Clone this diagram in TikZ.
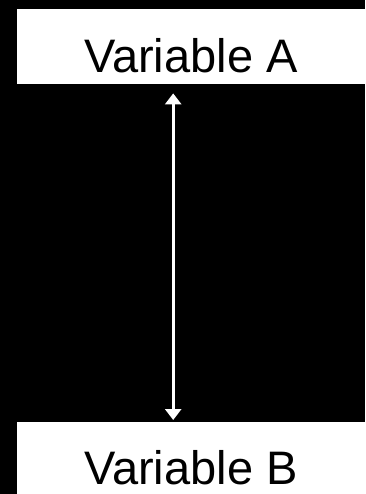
\documentclass[tikz,border=0pt]{standalone}
\usepackage{fontspec}
\setmainfont{Liberation Sans}
\usetikzlibrary{arrows.meta}
\begin{document}
\begin{tikzpicture}[x=1pt,y=-1pt,
  box/.style={fill=white, draw=none, rectangle, inner sep=0pt, anchor=north west},
  lbl/.style={inner sep=0pt, anchor=base, text=black, font=\fontsize{47}{56}\selectfont},
  arr/.style={draw=white, line width=3pt, {Triangle[width=16pt,length=11pt]}-{Triangle[width=16pt,length=11pt]}}]
  \useasboundingbox (0,0) rectangle (365,494);
  \fill[black] (0,0) rectangle (365,494);
  \node[box, minimum width=360pt, minimum height=75pt] (boxA) at (17,9) {};
  \node[box, minimum width=360pt, minimum height=80pt] (boxB) at (17,422) {};
  \node[lbl] (tA) at (191,73) {Variable A};
  \node[lbl] (tB) at (191,484) {Variable B};
  \coordinate (a1) at ([xshift=-24pt]boxA.south);
  \coordinate (b1) at ([xshift=-24pt]boxB.north);
  \draw[arr, shorten <=9pt, shorten >=2pt] (a1) -- (b1);
\end{tikzpicture}
\end{document}
